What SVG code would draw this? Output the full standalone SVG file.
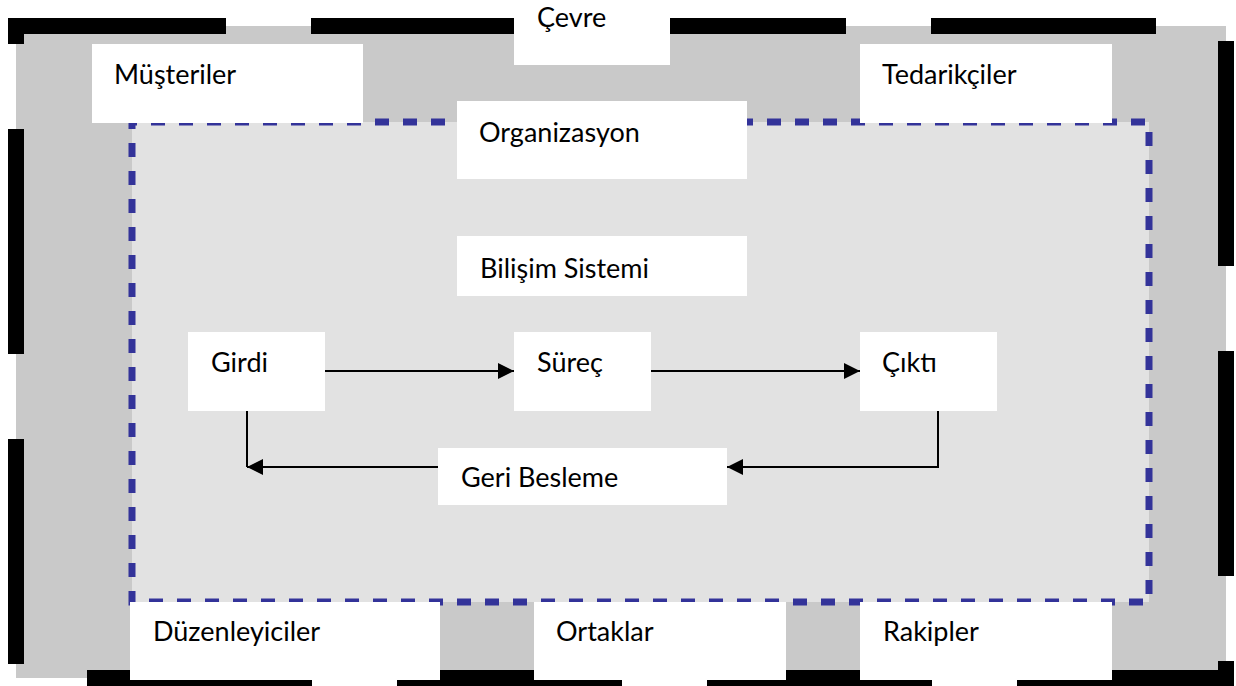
<svg xmlns="http://www.w3.org/2000/svg" width="1236" height="686" viewBox="0 0 1236 686">
  <style>
    .box { fill: #ffffff; stroke: none; }
    .lbl { font-family: "Lato", "Open Sans", "Liberation Sans", sans-serif; font-size: 27px; fill: #000000; }
    .conn { fill: none; stroke: #000000; stroke-width: 2; }
    .edge { fill: none; stroke: #000000; stroke-width: 16; stroke-dasharray: 225 85; }
  </style>
  <defs>
    <marker id="arrow" markerUnits="userSpaceOnUse" markerWidth="17" markerHeight="17" refX="16" refY="8" orient="auto">
      <path d="M0,0 L16,8 L0,16 Z" fill="#000000"/>
    </marker>
  </defs>
  <rect x="0" y="0" width="1236" height="686" fill="#ffffff"/>

  <g id="cevre-frame">
    <rect x="16" y="26" width="1210" height="652" fill="#c9c9c9"/>
    <path class="edge" d="M8,26 H1226 V686" stroke-dashoffset="7"/>
    <path class="edge" d="M1226,678 H16 V18" stroke-dashoffset="16"/>
  </g>
  <g id="organizasyon-frame">
    <rect x="132" y="122" width="1017" height="480" fill="#e2e2e2" stroke="#333399" stroke-width="7" stroke-dasharray="14 14" stroke-dashoffset="9"/>
  </g>

  <g id="connectors">
    <line class="conn" x1="325" y1="371" x2="514" y2="371" marker-end="url(#arrow)"/>
    <line class="conn" x1="651" y1="371" x2="860" y2="371" marker-end="url(#arrow)"/>
    <polyline class="conn" points="938,411 938,467 727,467" marker-end="url(#arrow)"/>
    <line class="conn" x1="438" y1="467" x2="247" y2="467" marker-end="url(#arrow)"/>
    <line class="conn" x1="247" y1="411" x2="247" y2="467"/>
  </g>

  <g id="cevre">
    <rect class="box" x="514" y="4" width="156" height="61"/>
    <text class="lbl" x="537" y="27">Çevre</text>
  </g>
  <g id="musteriler">
    <rect class="box" x="92" y="44" width="271" height="79"/>
    <text class="lbl" x="114" y="84">Müşteriler</text>
  </g>
  <g id="tedarikciler">
    <rect class="box" x="860" y="44" width="252" height="79"/>
    <text class="lbl" x="882" y="84">Tedarikçiler</text>
  </g>
  <g id="organizasyon">
    <rect class="box" x="457" y="101" width="290" height="78"/>
    <text class="lbl" x="479" y="142">Organizasyon</text>
  </g>
  <g id="bilisim-sistemi">
    <rect class="box" x="457" y="236" width="290" height="60"/>
    <text class="lbl" x="480" y="278">Bilişim Sistemi</text>
  </g>
  <g id="girdi">
    <rect class="box" x="188" y="332" width="137" height="79"/>
    <text class="lbl" x="211" y="372">Girdi</text>
  </g>
  <g id="surec">
    <rect class="box" x="514" y="332" width="137" height="79"/>
    <text class="lbl" x="537" y="372">Süreç</text>
  </g>
  <g id="cikti">
    <rect class="box" x="860" y="332" width="137" height="79"/>
    <text class="lbl" x="882" y="372">Çıktı</text>
  </g>
  <g id="geri-besleme">
    <rect class="box" x="438" y="448" width="289" height="57"/>
    <text class="lbl" x="461" y="487">Geri Besleme</text>
  </g>
  <g id="duzenleyiciler">
    <rect class="box" x="130" y="602" width="310" height="78"/>
    <text class="lbl" x="153" y="641">Düzenleyiciler</text>
  </g>
  <g id="ortaklar">
    <rect class="box" x="534" y="602" width="252" height="78"/>
    <text class="lbl" x="556" y="641">Ortaklar</text>
  </g>
  <g id="rakipler">
    <rect class="box" x="860" y="602" width="252" height="78"/>
    <text class="lbl" x="883" y="641">Rakipler</text>
  </g>
</svg>
